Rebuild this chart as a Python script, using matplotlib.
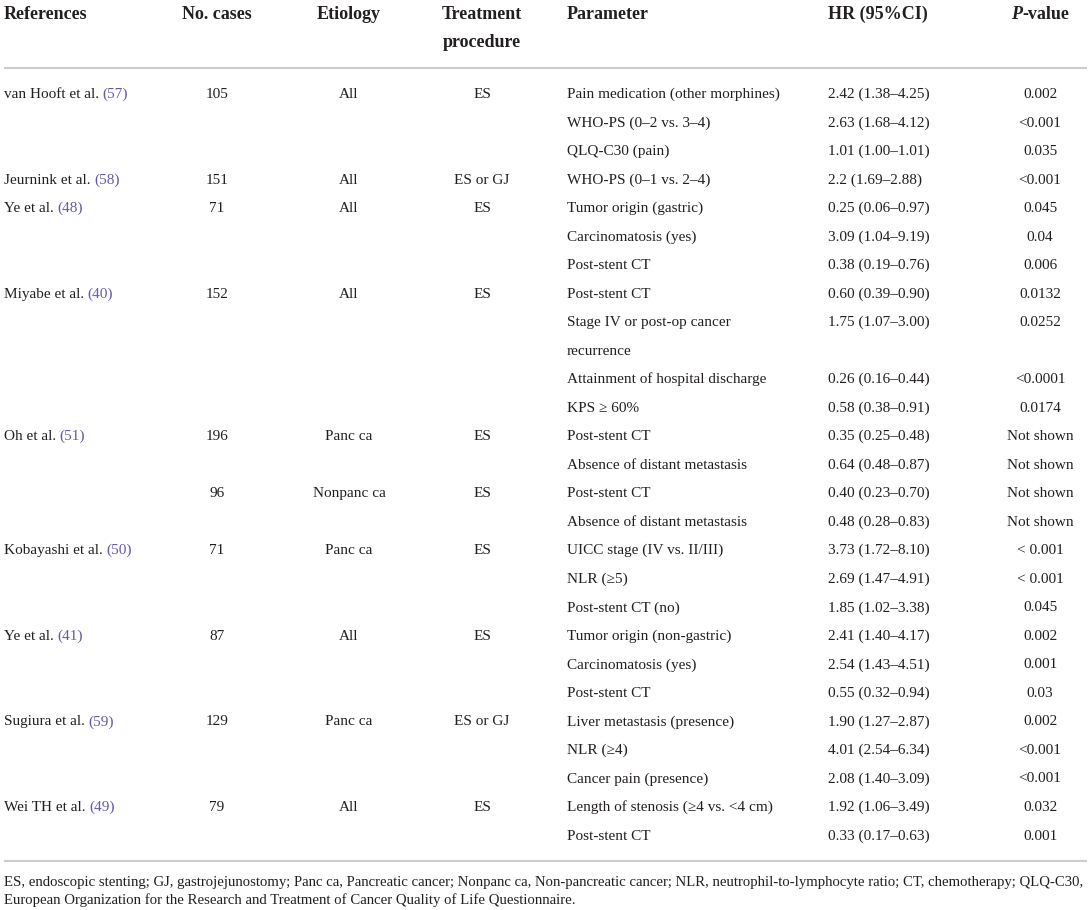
import matplotlib
matplotlib.use("Agg")
import matplotlib.pyplot as plt

# studies (one entry per block of rows)
references = ["van Hooft et al.", "Jeurnink et al.", "Ye et al.", "Miyabe et al.", "Oh et al.", "",
              "Kobayashi et al.", "Ye et al.", "Sugiura et al.", "Wei TH et al."]
ref_numbers = ["57", "58", "48", "40", "51", "", "50", "41", "59", "49"]
n_cases = ["105", "151", "71", "152", "196", "96", "71", "87", "129", "79"]
etiology = ["All", "All", "All", "All", "Panc ca", "Nonpanc ca", "Panc ca", "All", "Panc ca", "All"]
treatment = ["ES", "ES or GJ", "ES", "ES", "ES", "ES", "ES", "ES", "ES or GJ", "ES"]
group_start = [0, 3, 4, 7, 12, 14, 16, 19, 22, 25]

# parameter rows
parameters = [
    "Pain medication (other morphines)", "WHO-PS (0\u20132 vs. 3\u20134)", "QLQ-C30 (pain)",
    "WHO-PS (0\u20131 vs. 2\u20134)", "Tumor origin (gastric)", "Carcinomatosis (yes)", "Post-stent CT",
    "Post-stent CT", "Stage IV or post-op cancer", "recurrence", "Attainment of hospital discharge",
    "KPS \u2265 60%", "Post-stent CT", "Absence of distant metastasis", "Post-stent CT",
    "Absence of distant metastasis", "UICC stage (IV vs. II/III)", "NLR (\u22655)", "Post-stent CT (no)",
    "Tumor origin (non-gastric)", "Carcinomatosis (yes)", "Post-stent CT", "Liver metastasis (presence)",
    "NLR (\u22654)", "Cancer pain (presence)", "Length of stenosis (\u22654 vs. <4 cm)", "Post-stent CT",
]
hr_ci = [
    "2.42 (1.38\u20134.25)", "2.63 (1.68\u20134.12)", "1.01 (1.00\u20131.01)", "2.2 (1.69\u20132.88)",
    "0.25 (0.06\u20130.97)", "3.09 (1.04\u20139.19)", "0.38 (0.19\u20130.76)", "0.60 (0.39\u20130.90)",
    "1.75 (1.07\u20133.00)", "", "0.26 (0.16\u20130.44)", "0.58 (0.38\u20130.91)",
    "0.35 (0.25\u20130.48)", "0.64 (0.48\u20130.87)", "0.40 (0.23\u20130.70)", "0.48 (0.28\u20130.83)",
    "3.73 (1.72\u20138.10)", "2.69 (1.47\u20134.91)", "1.85 (1.02\u20133.38)", "2.41 (1.40\u20134.17)",
    "2.54 (1.43\u20134.51)", "0.55 (0.32\u20130.94)", "1.90 (1.27\u20132.87)", "4.01 (2.54\u20136.34)",
    "2.08 (1.40\u20133.09)", "1.92 (1.06\u20133.49)", "0.33 (0.17\u20130.63)",
]
p_values = [
    "0.002", "<0.001", "0.035", "<0.001", "0.045", "0.04", "0.006", "0.0132", "0.0252", "",
    "<0.0001", "0.0174", "Not shown", "Not shown", "Not shown", "Not shown", "< 0.001", "< 0.001",
    "0.045", "0.002", "0.001", "0.03", "0.002", "<0.001", "<0.001", "0.032", "0.001",
]

footnote = ["ES, endoscopic stenting; GJ, gastrojejunostomy; Panc ca, Pancreatic cancer; Nonpanc ca, "
            "Non-pancreatic cancer; NLR, neutrophil-to-lymphocyte ratio; CT, chemotherapy; QLQ-C30,",
            "European Organization for the Research and Treatment of Cancer Quality of Life Questionnaire."]

FONT = ["Liberation Serif", "DejaVu Serif"]
INK = "#231f20"
LINK = "#6659a8"
RULE = "#cccccc"
BODY_SIZE = 11.0
HEAD_SIZE = 13.0

fig = plt.figure(figsize=(10.91, 9.10), dpi=100)
ax = fig.add_axes([0, 0, 1, 1])
ax.set_xlim(0, 1091)
ax.set_ylim(910, 0)
ax.axis("off")
renderer = fig.canvas.get_renderer()


def width_px(t):
    return t.get_window_extent(renderer=renderer).width


body = dict(family=FONT, fontsize=BODY_SIZE, color=INK, va="baseline")
head = dict(family=FONT, fontsize=HEAD_SIZE, color=INK, va="baseline", fontweight="bold")

# header (baselines)
hb1, hb2 = 19, 47
ax.text(4, hb1, "References", ha="left", **head)
ax.text(217, hb1, "No. cases", ha="center", **head)
ax.text(349, hb1, "Etiology", ha="center", **head)
ax.text(482, hb1, "Treatment", ha="center", **head)
ax.text(482, hb2, "procedure", ha="center", **head)
ax.text(567, hb1, "Parameter", ha="left", **head)
ax.text(828, hb1, "HR (95%CI)", ha="left", **head)
tp = ax.text(0, hb1, "P", ha="left", style="italic", **head)
tv = ax.text(0, hb1, "-value", ha="left", **head)
wp, wv = width_px(tp), width_px(tv)
x0 = 1040 - (wp + wv) / 2
tp.set_x(x0)
tv.set_x(x0 + wp)

ax.plot([4, 1087], [68, 68], color=RULE, lw=1.5, solid_capstyle="butt")
ax.plot([4, 1087], [861, 861], color=RULE, lw=1.5, solid_capstyle="butt")

y0, step = 98, 28.52

for i, start in enumerate(group_start):
    y = y0 + start * step
    if references[i]:
        t = ax.text(4, y, references[i], ha="left", **body)
        ax.text(4 + width_px(t) + 3.5, y, "(" + ref_numbers[i] + ")", ha="left",
                family=FONT, fontsize=BODY_SIZE, color=LINK, va="baseline")
    ax.text(217, y, n_cases[i], ha="center", **body)
    ax.text(349, y, etiology[i], ha="center", **body)
    ax.text(482, y, treatment[i], ha="center", **body)

for j, (par, hr, p) in enumerate(zip(parameters, hr_ci, p_values)):
    y = y0 + j * step
    ax.text(567, y, par, ha="left", **body)
    ax.text(828, y, hr, ha="left", **body)
    ax.text(1040, y, p, ha="center", **body)

# footnote, fitted to the table width
f1 = ax.text(4, 886, footnote[0], ha="left", family=FONT, fontsize=9.5, color=INK, va="baseline")
scale = 1083 / width_px(f1)
f1.set_fontsize(9.5 * scale)
ax.text(4, 904, footnote[1], ha="left", family=FONT, fontsize=9.5 * scale, color=INK, va="baseline")

fig.savefig("out.png", dpi=100)
